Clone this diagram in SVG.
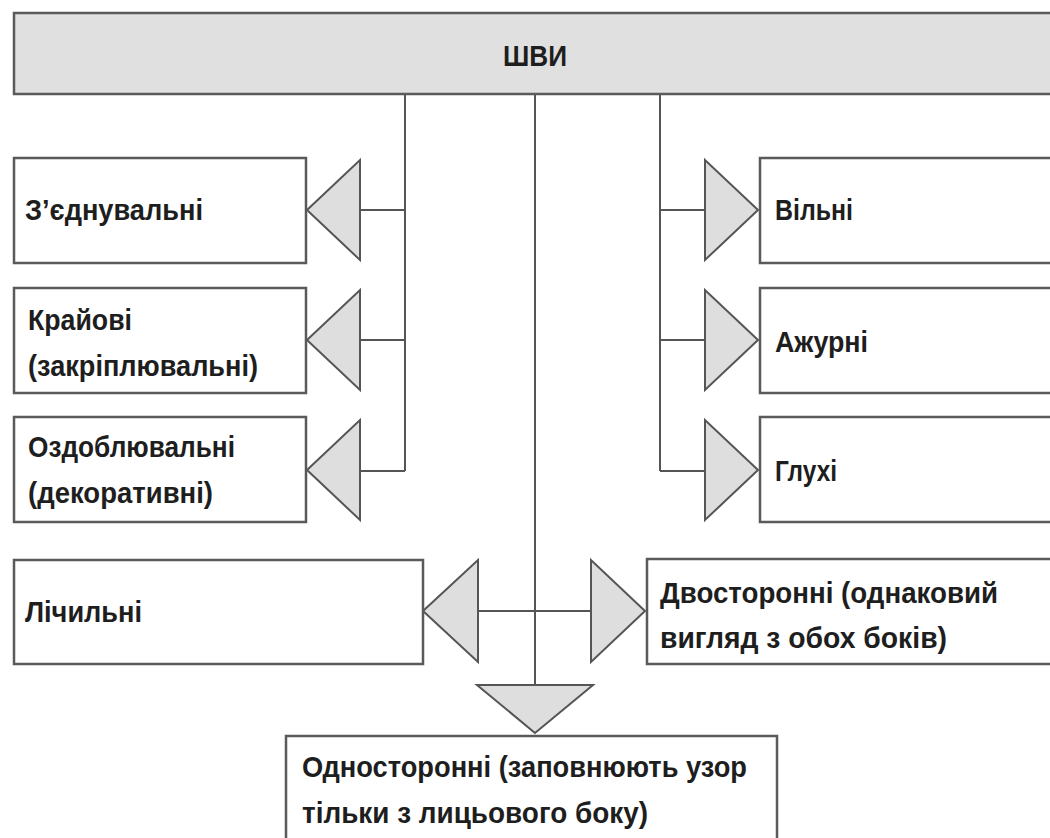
<svg xmlns="http://www.w3.org/2000/svg" width="1050" height="838" viewBox="0 0 1050 838">
<style>
.box{fill:#fff;stroke:#5a5a5a;stroke-width:2.5}
.bar{fill:#e0e0e0;stroke:#5a5a5a;stroke-width:2.5}
.tri{fill:#dedede;stroke:#555;stroke-width:2;stroke-linejoin:miter}
.ln{fill:none;stroke:#555;stroke-width:2}
text{font-family:"Liberation Sans","DejaVu Sans",sans-serif;font-size:30px;fill:#1e1e1e;font-weight:bold}
</style>
<rect width="1050" height="838" fill="#fff"/>
<g id="connectors">
<path class="ln" d="M405 94V471M360 210H405M360 340H405M360 471H405"/>
<path class="ln" d="M660 94V471M660 210H705M660 340H705M660 471H705"/>
<path class="ln" d="M535 94V685M478 611H591"/>
<polygon class="tri" points="307,210 360,160 360,260"/>
<polygon class="tri" points="307,340 360,290 360,390"/>
<polygon class="tri" points="307,470 360,420 360,520"/>
<polygon class="tri" points="758,210 705,160 705,260"/>
<polygon class="tri" points="758,340 705,290 705,390"/>
<polygon class="tri" points="758,470 705,420 705,520"/>
<polygon class="tri" points="423,611 478,560 478,662"/>
<polygon class="tri" points="645,611 591,560 591,662"/>
<polygon class="tri" points="535,733 477,685 593,685"/>
</g>
<g id="node-shvy">
<rect class="bar" x="14" y="13" width="1050" height="81"/>
<text x="503" y="66" textLength="64" lengthAdjust="spacingAndGlyphs">ШВИ</text>
</g>
<g id="node-zyednuvalni">
<rect class="box" x="14" y="158" width="292" height="105"/>
<text x="25" y="220" textLength="178" lengthAdjust="spacingAndGlyphs">З’єднувальні</text>
</g>
<g id="node-kraiovi">
<rect class="box" x="14" y="288" width="292" height="105"/>
<text x="28" y="330" textLength="104" lengthAdjust="spacingAndGlyphs">Крайові</text>
<text x="28" y="376" textLength="230" lengthAdjust="spacingAndGlyphs">(закріплювальні)</text>
</g>
<g id="node-ozdoblyuvalni">
<rect class="box" x="14" y="417" width="292" height="105"/>
<text x="28" y="457" textLength="207" lengthAdjust="spacingAndGlyphs">Оздоблювальні</text>
<text x="28" y="503" textLength="185" lengthAdjust="spacingAndGlyphs">(декоративні)</text>
</g>
<g id="node-vilni">
<rect class="box" x="760" y="158" width="300" height="105"/>
<text x="775" y="220" textLength="78" lengthAdjust="spacingAndGlyphs">Вільні</text>
</g>
<g id="node-azhurni">
<rect class="box" x="760" y="288" width="300" height="105"/>
<text x="775" y="352" textLength="93" lengthAdjust="spacingAndGlyphs">Ажурні</text>
</g>
<g id="node-hlukhi">
<rect class="box" x="760" y="417" width="300" height="105"/>
<text x="775" y="481" textLength="62" lengthAdjust="spacingAndGlyphs">Глухі</text>
</g>
<g id="node-lichylni">
<rect class="box" x="14" y="560" width="409" height="104"/>
<text x="25" y="622" textLength="117" lengthAdjust="spacingAndGlyphs">Лічильні</text>
</g>
<g id="node-dvostoronni">
<rect class="box" x="647" y="559" width="413" height="105"/>
<text x="660" y="603" textLength="338" lengthAdjust="spacingAndGlyphs">Двосторонні (однаковий</text>
<text x="660" y="648" textLength="287" lengthAdjust="spacingAndGlyphs">вигляд з обох боків)</text>
</g>
<g id="node-odnostoronni">
<rect class="box" x="286" y="736" width="491" height="120"/>
<text x="302" y="777" textLength="445" lengthAdjust="spacingAndGlyphs">Односторонні (заповнюють узор</text>
<text x="302" y="823" textLength="346" lengthAdjust="spacingAndGlyphs">тільки з лицьового боку)</text>
</g>
</svg>
